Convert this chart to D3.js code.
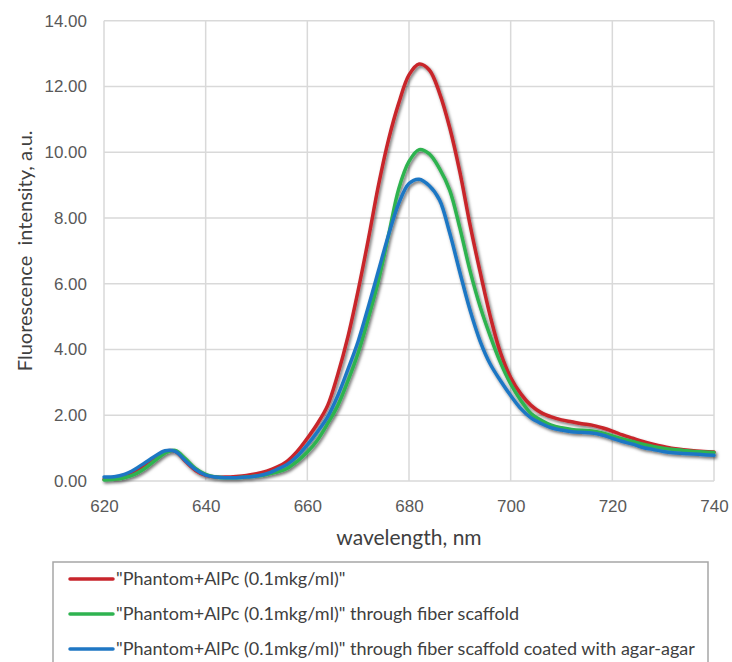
<!DOCTYPE html>
<html>
<head>
<meta charset="utf-8">
<script src="https://cdn.jsdelivr.net/npm/d3@7"></script>
<style>
  body { margin: 0; background: #fff; }
  svg { display: block; font-family: Lato, "Open Sans", sans-serif; }
  .tick text { fill: #595959; font-size: 17px; }
  .axis-title { fill: #404040; }
  .legend text { fill: #404040; font-size: 18px; }
</style>
</head>
<body>
<div id="chart"></div>
<script>

const margin = ({top: 20.7, right: 18, bottom: 181, left: 104});
var totwidth = 732, totheight = 662;

// wavelength, nm (2 nm steps)
const wavelengths = d3.range(620, 741, 2);

const seriesNames = [
  "\"Phantom+AlPc (0.1mkg/ml)\"",
  "\"Phantom+AlPc (0.1mkg/ml)\" through fiber scaffold",
  "\"Phantom+AlPc (0.1mkg/ml)\" through fiber scaffold coated with agar-agar"
];
const seriesColors = ["#c8252c", "#2fb350", "#1f77c4"];

const phantom = [
  0.05, 0.06, 0.12, 0.28, 0.50, 0.72, 0.90, 0.90, 0.60, 0.32,
  0.17, 0.12, 0.12, 0.14, 0.17, 0.22, 0.30, 0.42, 0.60, 0.90,
  1.30, 1.75, 2.30, 3.25, 4.40, 5.80, 7.35, 9.00, 10.40, 11.50,
  12.35, 12.68, 12.50, 11.80, 10.75, 9.40, 7.80, 6.35, 5.00, 3.90,
  3.15, 2.65, 2.30, 2.08, 1.95, 1.86, 1.80, 1.74, 1.70, 1.62,
  1.52, 1.40, 1.30, 1.20, 1.12, 1.05, 0.99, 0.95, 0.92, 0.90,
  0.88
];

const throughScaffold = [
  0.03, 0.05, 0.10, 0.20, 0.38, 0.62, 0.85, 0.93, 0.68, 0.38,
  0.20, 0.12, 0.10, 0.10, 0.12, 0.15, 0.20, 0.27, 0.38, 0.60,
  0.88, 1.25, 1.75, 2.30, 3.05, 3.90, 4.95, 6.10, 7.50, 8.90,
  9.72, 10.08, 9.95, 9.50, 8.85, 7.70, 6.40, 5.30, 4.40, 3.60,
  2.95, 2.45, 2.05, 1.85, 1.70, 1.62, 1.57, 1.54, 1.52, 1.46,
  1.37, 1.28, 1.20, 1.12, 1.05, 1.00, 0.96, 0.93, 0.90, 0.88,
  0.87
];

const coatedScaffold = [
  0.12, 0.13, 0.20, 0.35, 0.55, 0.75, 0.92, 0.90, 0.62, 0.35,
  0.18, 0.12, 0.10, 0.10, 0.12, 0.15, 0.22, 0.35, 0.50, 0.75,
  1.10, 1.50, 1.95, 2.60, 3.40, 4.25, 5.30, 6.40, 7.50, 8.45,
  9.05, 9.18, 8.98, 8.55, 7.55, 6.35, 5.20, 4.25, 3.55, 3.05,
  2.60, 2.20, 1.92, 1.75, 1.62, 1.55, 1.50, 1.48, 1.46, 1.40,
  1.30, 1.20, 1.12, 1.02, 0.96, 0.90, 0.86, 0.84, 0.82, 0.80,
  0.78
];

const xTicks = [620, 640, 660, 680, 700, 720, 740];
const yTicks = [0, 2, 4, 6, 8, 10, 12, 14];

const series = [phantom, throughScaffold, coatedScaffold].map((vals, i) => ({
  name: seriesNames[i],
  color: seriesColors[i],
  values: wavelengths.map((w, j) => ({x: w, y: vals[j]}))
}));

var width = totwidth - margin.left - margin.right,
  height = totheight - margin.top - margin.bottom;

var svg = d3.select("#chart").append("svg")
  .attr("width", totwidth)
  .attr("height", totheight);

// SHADOW UNDER THE LINES
var filter = svg.append("defs").append("filter")
  .attr("id", "shadow")
  .attr("x", "-5%").attr("y", "-5%")
  .attr("width", "110%").attr("height", "115%");
filter.append("feDropShadow")
  .attr("dx", 1.5).attr("dy", 2)
  .attr("stdDeviation", 1.4)
  .attr("flood-color", "#000")
  .attr("flood-opacity", 0.55);

var g = svg.append("g")
  .attr("transform", "translate(" + margin.left + "," + margin.top + ")");

var x = d3.scaleLinear().domain([620, 740]).range([0, width]);
var y = d3.scaleLinear().domain([0, 14]).range([height, 0]);

// GRID
g.append("g")
  .selectAll("line.hgrid")
  .data(yTicks)
  .enter().append("line")
    .attr("class", "hgrid")
    .attr("x1", 0).attr("x2", width)
    .attr("y1", d => y(d)).attr("y2", d => y(d))
    .attr("stroke", "#d9d9d9")
    .attr("stroke-width", 1.5);

g.append("g")
  .selectAll("line.vgrid")
  .data(xTicks)
  .enter().append("line")
    .attr("class", "vgrid")
    .attr("x1", d => x(d)).attr("x2", d => x(d))
    .attr("y1", 0).attr("y2", height)
    .attr("stroke", "#d9d9d9")
    .attr("stroke-width", 1.5);

// AXES (labels only)
var xAxis = g.append("g")
  .attr("transform", "translate(0," + height + ")")
  .call(d3.axisBottom(x).tickValues(xTicks).tickSize(0).tickPadding(19).tickFormat(d3.format("d")));
xAxis.select(".domain").remove();
xAxis.selectAll("text").attr("font-family", null).attr("font-size", null);

var yAxis = g.append("g")
  .call(d3.axisLeft(y).tickValues(yTicks).tickSize(0).tickPadding(17).tickFormat(d3.format(".2f")));
yAxis.select(".domain").remove();
yAxis.selectAll("text").attr("font-family", null).attr("font-size", null);

// LINES
var line = d3.line()
  .x(d => x(d.x))
  .y(d => y(d.y))
  .curve(d3.curveCatmullRom.alpha(0.5));

g.append("g")
  .attr("filter", "url(#shadow)")
  .selectAll("path")
  .data(series)
  .enter().append("path")
    .attr("d", d => line(d.values))
    .attr("fill", "none")
    .attr("stroke", d => d.color)
    .attr("stroke-width", 3.5)
    .attr("stroke-linejoin", "round")
    .attr("stroke-linecap", "round");

// AXIS TITLES
svg.append("text")
  .attr("class", "axis-title")
  .attr("transform", "translate(" + (margin.left + width / 2) + ",545)")
  .attr("text-anchor", "middle")
  .attr("font-size", 21)
  .text("wavelength, nm");

svg.append("text")
  .attr("class", "axis-title")
  .attr("transform", "translate(32," + (margin.top + height / 2) + ")rotate(-90)")
  .attr("text-anchor", "middle")
  .attr("font-size", 20)
  .style("white-space", "pre")
  .text("Fluorescence  intensity, a.u.");

// LEGEND
var legend = svg.append("g")
  .attr("class", "legend")
  .attr("transform", "translate(53,562)");

legend.append("rect")
  .attr("width", 655)
  .attr("height", 120)
  .attr("fill", "#fff")
  .attr("stroke", "#a6a6a6")
  .attr("stroke-width", 1.5);

var items = legend.selectAll("g.item")
  .data(series)
  .enter().append("g")
    .attr("class", "item")
    .attr("transform", (d, i) => "translate(0," + (17 + i * 35) + ")");

items.append("line")
  .attr("x1", 17).attr("x2", 60)
  .attr("stroke", d => d.color)
  .attr("stroke-width", 3.5)
  .attr("stroke-linecap", "round");

items.append("text")
  .attr("x", 63)
  .attr("dy", "0.35em")
  .text(d => d.name);

</script>
</body>
</html>
